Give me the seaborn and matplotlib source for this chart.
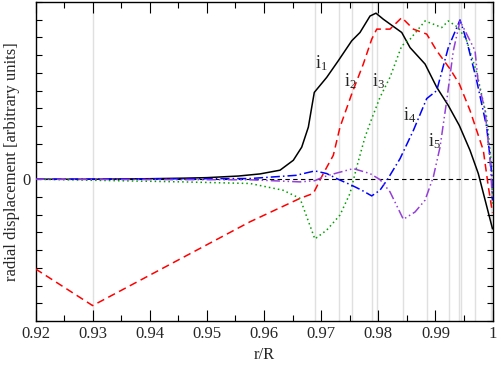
"""Radial displacement eigenfunctions near the surface."""

import matplotlib.pyplot as plt
import seaborn as sns
from matplotlib.ticker import MultipleLocator

# mesh points marked by thin grey lines
MESH_X = [0.93, 0.9689, 0.9731, 0.97546, 0.97896, 0.97973, 0.98428,
          0.98848, 0.99233, 0.99419, 0.99443, 0.99699, 0.99968]

i1_x = [0.92, 0.93, 0.94, 0.9459, 0.95, 0.9555, 0.9593, 0.9628, 0.96513,
        0.9666, 0.96776, 0.96835, 0.9688, 0.97098,
        0.97301, 0.97535, 0.9768, 0.97856, 0.9796, 0.98088, 0.98411, 0.98556,
        0.98819, 0.99023, 0.99226, 0.99419, 0.99606, 0.99751, 1.0]
i1_y = [0.0, 0.0, 0.03, 0.06, 0.09, 0.18, 0.30, 0.51, 1.07,
        1.81, 2.94, 4.06, 4.90, 5.75,
        6.69, 7.81, 8.28, 9.21, 9.37, 9.03, 8.28, 7.43,
        6.50, 5.19, 4.16, 3.03, 1.63, 0.32, -2.8]

i2_x = [0.92, 0.93, 0.95755, 0.9663, 0.96863, 0.97038, 0.97213, 0.9733,
        0.97535, 0.97738, 0.97885, 0.97973, 0.98205, 0.98411, 0.98614,
        0.98848, 0.99023, 0.99256, 0.99419, 0.99606, 0.99839, 0.99927, 1.0]
i2_y = [-5.06, -7.13, -2.40, -1.08, -0.80, 0.32, 1.35, 2.94,
        4.81, 6.50, 7.90, 8.47, 8.47, 9.12, 8.47,
        8.19, 7.25, 6.22, 5.38, 3.88, 1.63, -0.43, -1.9]

i3_x = [0.92, 0.94582, 0.95755, 0.96333, 0.9663, 0.9689, 0.97098, 0.9733,
        0.97505, 0.97623, 0.97768, 0.97885, 0.9803, 0.98205, 0.98411, 0.98556,
        0.98819, 0.98964, 0.99111, 0.99226, 0.99401, 0.99548, 0.99723,
        0.99898, 0.99986, 1.0]
i3_y = [0.0, -0.15, -0.24, -0.62, -1.08, -3.37, -2.87, -2.02,
        -0.80, 0.69, 2.38, 3.41, 4.62, 5.75, 7.53, 7.90,
        8.93, 8.75, 8.56, 8.93, 8.56, 7.81, 6.03,
        3.50, 0.69, -1.5]

i4_x = [0.92, 0.95755, 0.9656, 0.9689, 0.97098, 0.9731, 0.97535, 0.97711,
        0.97885, 0.9803, 0.98159, 0.98381, 0.98614, 0.98848, 0.99023, 0.99226,
        0.99431, 0.99548, 0.99723, 0.99898, 0.99986, 1.0]
i4_y = [0.0, 0.04, 0.22, 0.47, 0.32, -0.02, -0.34, -0.62,
        -0.94, -0.62, -0.02, 1.16, 2.75, 4.55, 5.00, 7.43,
        8.99, 7.81, 5.56, 2.94, 0.32, -1.2]

i5_x = [0.92, 0.95755, 0.9663, 0.9689, 0.97038, 0.97273, 0.97563, 0.97856,
        0.9803, 0.98205, 0.98439, 0.98643, 0.98819, 0.98964, 0.99081, 0.99198,
        0.99314, 0.99431, 0.99548, 0.99694, 0.99746, 0.99869, 0.99956, 1.0]
i5_y = [0.0, -0.03, -0.15, -0.08, 0.13, 0.35, 0.60, 0.32,
        -0.02, -0.71, -2.26, -1.85, -1.18, 0.13, 1.81, 4.44,
        7.25, 8.93, 8.19, 7.25, 5.56, 3.88, 1.07, -1.2]

X_TICKS = [0.92, 0.93, 0.94, 0.95, 0.96, 0.97, 0.98, 0.99, 1.0]
X_LABELS = ["0.92", "0.93", "0.94", "0.95", "0.96", "0.97", "0.98", "0.99", "1"]

SERIES = [
    (i1_x, i1_y, "black", "-"),
    (i2_x, i2_y, "#ff0000", (0, (5, 3))),
    (i3_x, i3_y, "#00a000", (0, (1, 2))),
    (i4_x, i4_y, "#0000ff", (0, (6, 2, 1, 2))),
    (i5_x, i5_y, "#9440d8", (0, (6, 2, 1, 2, 1, 2))),
]

LABELS = [
    (0.97004, 6.55, "1"),
    (0.97509, 5.55, "2"),
    (0.98004, 5.55, "3"),
    (0.98552, 3.60, "4"),
    (0.98990, 2.15, "5"),
]

sns.set_theme(style="ticks")
plt.rcParams["font.family"] = ["Liberation Serif", "DejaVu Serif"]
plt.rcParams["mathtext.fontset"] = "stix"

fig = plt.figure(figsize=(4.98, 3.65), dpi=100)
ax = fig.add_axes([0.0713, 0.1205, 0.9177, 0.874])

for x in MESH_X:
    ax.axvline(x, color="#e0e0e0", linewidth=1.0, zorder=0)
ax.axhline(0, color="black", linewidth=0.8, linestyle=(0, (4, 3)), zorder=1)

for xs, ys, color, style in SERIES:
    sns.lineplot(x=xs, y=ys, ax=ax, color=color, linestyle=style,
                 linewidth=1.1, sort=False, zorder=3)

for lx, ly, sub in LABELS:
    ax.text(lx, ly, r"$\mathregular{i_{%s}}$" % sub, fontsize=13,
            ha="center", va="center")

ax.set_xlim(0.92, 1.0)
ax.set_ylim(-8, 10)
ax.set_xticks(X_TICKS)
ax.set_xticklabels(X_LABELS)
ax.xaxis.set_minor_locator(MultipleLocator(0.005))
ax.set_yticks([0])
ax.set_yticklabels(["0"])
ax.yaxis.set_minor_locator(MultipleLocator(1))
ax.tick_params(which="both", direction="in", top=True, right=True,
               labelsize=12, color="black", width=0.8)
ax.tick_params(axis="x", which="major", length=8)
ax.tick_params(axis="x", which="minor", length=4)
ax.tick_params(axis="y", which="both", length=4)
for spine in ax.spines.values():
    spine.set_visible(True)
    spine.set_linewidth(1.0)
    spine.set_color("black")

ax.set_xlabel("r/R", fontsize=12, labelpad=4)
ax.set_ylabel("radial displacement [arbitrary units]", fontsize=12, labelpad=2)

fig.savefig("out.png", dpi=100)
